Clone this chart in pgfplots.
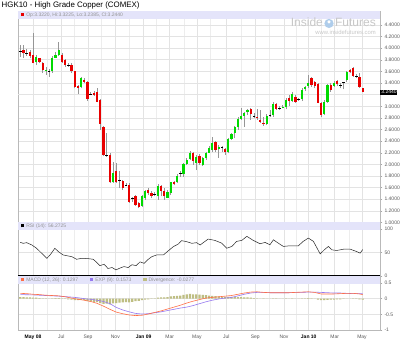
\documentclass[border=0pt]{standalone}
\usepackage{pgfplots}
\pgfplotsset{compat=1.18}
\usepackage{pgfplotstable}
\usepackage{fontspec}
\setmainfont{Liberation Sans}
\definecolor{candlered}{RGB}{232,0,0}
\definecolor{candlegreen}{RGB}{0,218,0}
\definecolor{wickc}{RGB}{150,150,150}
\definecolor{bandc}{RGB}{228,228,250}
\definecolor{macdc}{RGB}{255,110,70}
\definecolor{expc}{RGB}{150,120,240}
\definecolor{divc}{RGB}{190,190,130}
\definecolor{labc}{RGB}{90,90,90}
\definecolor{wmark}{RGB}{200,200,200}
\definecolor{wlogo}{RGB}{175,205,235}

\pgfplotstableread{
i o h l c
6 3.76 3.88 3.71 3.85
9 3.61 3.68 3.54 3.63
11 3.60 3.87 3.58 3.84
12 3.84 3.94 3.83 3.89
13 3.88 4.10 3.87 3.97
20 3.34 3.51 3.31 3.48
30 1.69 2.05 1.68 1.85
39 1.29 1.47 1.275 1.45
40 1.42 1.56 1.39 1.55
44 1.45 1.66 1.39 1.635
47 1.43 1.56 1.42 1.53
48 1.50 1.70 1.47 1.69
50 1.69 1.84 1.68 1.80
52 1.84 2.02 1.79 2.00
53 2.00 2.11 1.99 2.08
54 2.09 2.23 2.08 2.19
56 2.03 2.16 1.90 2.12
58 1.99 2.134 1.98 2.105
59 2.105 2.22 2.08 2.20
60 2.20 2.32 2.19 2.29
61 2.25 2.467 2.22 2.375
63 2.26 2.335 2.117 2.30
66 2.21 2.449 2.19 2.432
67 2.438 2.535 2.42 2.524
68 2.535 2.662 2.45 2.639
69 2.639 2.822 2.593 2.782
70 2.782 2.966 2.765 2.839
71 2.839 2.908 2.65 2.885
72 2.897 2.954 2.851 2.937
78 2.696 2.868 2.679 2.834
80 2.851 3.080 2.822 3.040
83 2.975 3.023 2.966 2.99
84 2.983 3.138 2.948 3.109
86 3.098 3.252 3.080 3.212
89 3.121 3.31 3.098 3.281
90 3.298 3.35 3.27 3.327
91 3.35 3.539 3.321 3.407
96 2.868 3.109 2.851 3.080
97 3.080 3.384 3.063 3.367
99 3.356 3.436 3.339 3.407
103 3.453 3.614 3.425 3.597
}\greendata

\pgfplotstableread{
i o h l c
2 3.97 4.05 3.83 3.91
4 3.93 3.97 3.83 3.87
5 3.89 4.27 3.74 3.75
7 3.83 3.84 3.74 3.76
8 3.74 3.77 3.57 3.62
14 3.89 3.91 3.75 3.77
15 3.79 3.81 3.68 3.71
17 3.71 3.74 3.57 3.60
18 3.60 3.61 3.31 3.34
19 3.35 3.37 3.22 3.32
21 3.46 3.48 3.41 3.42
22 3.42 3.44 3.10 3.13
24 3.23 3.27 3.18 3.19
25 3.25 3.31 3.07 3.08
26 3.11 3.12 2.59 2.70
27 2.65 2.66 2.14 2.16
29 2.16 2.19 1.68 1.69
31 1.88 2.02 1.68 1.69
33 1.72 1.74 1.56 1.59
35 1.65 1.675 1.34 1.36
37 1.46 1.47 1.285 1.30
38 1.34 1.36 1.245 1.27
41 1.56 1.59 1.47 1.50
42 1.51 1.55 1.42 1.46
45 1.62 1.65 1.45 1.55
46 1.55 1.59 1.39 1.45
49 1.69 1.72 1.64 1.66
55 2.19 2.22 1.99 2.06
57 2.15 2.18 1.99 2.03
62 2.38 2.40 2.22 2.25
65 2.26 2.277 2.163 2.21
73 2.948 2.966 2.765 2.862
75 2.817 2.948 2.765 2.794
76 2.765 2.937 2.719 2.736
77 2.708 2.822 2.662 2.690
81 3.040 3.063 2.937 2.954
85 3.149 3.195 3.006 3.098
87 3.166 3.195 3.063 3.080
92 3.482 3.511 3.339 3.367
93 3.413 3.436 3.310 3.350
94 3.384 3.407 3.052 3.063
95 3.052 3.080 2.811 2.851
98 3.367 3.396 3.252 3.281
100 3.436 3.453 3.356 3.379
104 3.625 3.637 3.568 3.597
105 3.654 3.683 3.511 3.522
107 3.511 3.568 3.321 3.339
108 3.322 3.3225 3.2385 3.244
}\reddata

\pgfplotstableread{
i h l c
1 4.06 3.85 3.95
3 3.98 3.87 3.92
10 3.65 3.51 3.61
16 3.75 3.68 3.71
23 3.25 3.20 3.21
28 2.54 2.13 2.16
32 1.88 1.59 1.72
34 1.675 1.62 1.635
36 1.445 1.36 1.41
43 1.53 1.45 1.49
51 1.88 1.79 1.84
64 2.317 2.22 2.294
74 2.880 2.794 2.834
79 2.937 2.822 2.851
82 3.006 2.937 2.966
88 3.14 3.10 3.121
101 3.396 3.310 3.367
102 3.425 3.293 3.407
106 3.551 3.482 3.522
}\dojidata

\pgfplotstableread{
i v
1 71.6
1.9 69.5
3.0 70.9
4.6 66
6.1 58.9
7.7 48.2
9.3 37.6
10.3 44.7
11.8 58.9
12.9 51.8
14.4 44.7
16 42.6
17.1 41.1
18.6 35.5
20.2 37.6
22.3 36.9
23.8 35.5
24.7 30
25.9 22
27.2 25
28.4 16
29.7 18
30.9 13
32.2 17
33.4 20
34.7 18
35.9 24
37.2 22
38.4 30
39.7 27
40.9 35
42.1 41.1
43.6 44.7
45.7 44.7
47.3 53.9
48.8 62.4
50.4 68.1
51.4 75.2
53 73
54.6 69.5
56.1 70.9
57.2 66
59.7 78.6
61.8 75.7
63.9 70
65.5 59
67.1 62.9
68.6 73.6
70.2 75.7
71.8 84.3
73.8 75.7
75.9 68.6
77.5 71.4
79 66.4
80.1 77
81.6 70
83.2 62.9
85.3 64.3
87.9 64.3
89.4 73.6
91 80.7
92.6 73.6
94.7 47
96.2 57
97.3 62.9
98.3 55.7
99.9 54.3
102 57
104.1 57
106.1 52
107.2 48.6
108 56.3
}\rsidata

\pgfplotstableread{
i v
1 0.17
3 0.16
5 0.14
7 0.13
9 0.11
11 0.10
13 0.09
15 0.06
17 0.02
19 -0.02
21 -0.05
23 -0.09
25 -0.15
27 -0.24
29 -0.34
31 -0.43
33 -0.48
35 -0.52
37 -0.54
39 -0.53
41 -0.49
43 -0.44
45 -0.39
47 -0.33
49 -0.27
51 -0.21
53 -0.14
55 -0.08
57 -0.03
59 0.02
61 0.04
63 0.06
65 0.08
67 0.10
69 0.14
71 0.18
73 0.21
75 0.22
77 0.20
79 0.19
81 0.19
83 0.19
85 0.19
87 0.20
89 0.21
91 0.22
93 0.20
95 0.15
97 0.15
99 0.15
101 0.16
103 0.17
105 0.17
107 0.15
108 0.13
}\macddata

\pgfplotstableread{
i v
1 0.13
5 0.12
9 0.10
13 0.08
17 0.05
19 0.03
21 0.00
23 -0.02
25 -0.05
27 -0.09
29 -0.16
31 -0.28
33 -0.36
35 -0.42
37 -0.47
39 -0.49
41 -0.48
43 -0.45
45 -0.42
47 -0.38
49 -0.34
51 -0.30
53 -0.27
55 -0.22
57 -0.16
59 -0.10
61 -0.05
63 -0.01
65 0.02
67 0.04
69 0.09
71 0.14
73 0.18
75 0.20
77 0.20
79 0.19
81 0.19
83 0.19
85 0.19
87 0.20
89 0.20
91 0.21
93 0.21
95 0.20
97 0.19
99 0.18
101 0.18
103 0.17
105 0.16
107 0.16
108 0.157
}\expdata

\pgfplotstableread{
i v
1 0.05
2 0.05
3 0.04
4 0.04
5 0.03
6 0.03
7 0.02
8 0.01
9 0.01
10 0.00
11 0.01
12 0.02
13 0.02
14 0.01
15 -0.01
16 -0.02
17 -0.03
18 -0.05
19 -0.05
20 -0.04
21 -0.05
22 -0.08
23 -0.09
24 -0.10
25 -0.11
26 -0.14
27 -0.17
28 -0.16
29 -0.18
30 -0.15
31 -0.14
32 -0.13
33 -0.12
34 -0.11
35 -0.12
36 -0.10
37 -0.08
38 -0.07
39 -0.05
40 -0.03
41 -0.02
42 -0.01
43 0.01
44 0.03
45 0.04
46 0.04
47 0.05
48 0.07
49 0.08
50 0.09
51 0.10
52 0.12
53 0.14
54 0.15
55 0.14
56 0.14
57 0.13
58 0.12
59 0.11
60 0.10
61 0.09
62 0.08
63 0.07
64 0.06
65 0.06
66 0.06
67 0.06
68 0.05
69 0.05
70 0.05
71 0.04
72 0.04
73 0.03
74 0.02
75 0.01
76 0.00
77 -0.01
78 0.00
79 0.00
80 0.01
81 0.01
82 0.00
83 0.00
84 0.01
85 0.00
86 0.01
87 0.00
88 0.00
89 0.01
90 0.01
91 0.02
92 0.01
93 0.00
94 -0.03
95 -0.05
96 -0.05
97 -0.04
98 -0.03
99 -0.03
100 -0.02
101 -0.02
102 -0.01
103 0.00
104 0.00
105 0.01
106 -0.01
107 -0.02
108 -0.03
}\divdata

\pgfplotsset{
  panel/.style={
    scale only axis, anchor=south west, width=362pt,
    xmin=0.28, xmax=113.4, clip=false,
    axis line style={draw=gray!55, line width=0.6pt},
    xtick={4.97,13.81,22.16,30.69,39.56,47.69,56.2,65.38,74.44,83.41,91.13,99.25,107.78},
    minor xtick={9.44,18.0,26.31,35.19,43.5,52.16,60.5,70.06,78.94,87.16,95.06,103.72},
    xtick style={draw=none}, minor tick length=0pt,
    ytick pos=right, yticklabel pos=right,
    tick align=outside, major tick length=2.5pt,
    ytick style={draw=gray!70, line width=0.5pt},
    grid=both,
    major grid style={draw=gray!22, line width=0.7pt},
    minor grid style={draw=gray!14, line width=0.7pt},
    yticklabel style={font=\fontsize{5}{6}\selectfont, text=labc, xshift=-1.5pt,
      /pgf/number format/assume math mode=true},
    xticklabel style={font=\fontsize{5}{6}\selectfont, text=labc,
      /pgf/number format/assume math mode=true},
  },
  wicks/.style={draw=none, mark=none, forget plot,
    error bars/.cd, y dir=plus, y explicit, error mark=none,
    error bar style={draw=wickc, line width=0.6pt}},
  bodies/.style={draw=none, mark=none, forget plot,
    error bars/.cd, y dir=plus, y explicit, error mark=none,
    error bar style={draw=#1, line width=2.3pt}},
}

\begin{document}
\begin{tikzpicture}
\useasboundingbox (0pt,0pt) rectangle (400pt,351pt);
\fill[white] (0pt,0pt) rectangle (400pt,351pt);
\node[anchor=west, inner sep=0pt, font=\fontsize{7.9}{9}\selectfont] at (1.5pt,345.5pt) {HGK10 - High Grade Copper (COMEX)};

% ---------------- price panel
\begin{axis}[panel, at={(18pt,128.5pt)}, height=211.5pt,
  ymin=1.0, ymax=4.641,
  xticklabels={},
  ytick={1.0,1.2,1.4,1.6,1.8,2.0,2.2,2.4,2.6,2.8,3.0,3.4,3.6,3.8,4.0,4.2,4.4},
  extra y ticks={3.2}, extra y tick labels={},
  extra y tick style={grid=major},
  yticklabel style={/pgf/number format/fixed, /pgf/number format/fixed zerofill,
    /pgf/number format/precision=4},
]
\fill[bandc] (rel axis cs:0,0.9645) rectangle (rel axis cs:1,1);
\node[anchor=west, inner sep=0pt, text=gray!85, font=\fontsize{5}{6}\selectfont]
  at (rel axis cs:0.008,0.982) {\textcolor{candlered}{\rule{3.2pt}{3.2pt}}\hspace{2pt}Op:3.3220, Hi:3.3225, Lo:3.2385, Cl:3.2440};
\addplot[wicks] table[x=i, y=l, y error expr=\thisrow{h}-\thisrow{l}] {\greendata};
\addplot[wicks] table[x=i, y=l, y error expr=\thisrow{h}-\thisrow{l}] {\reddata};
\addplot[wicks] table[x=i, y=l, y error expr=\thisrow{h}-\thisrow{l}] {\dojidata};
\addplot[bodies=candlegreen] table[x=i, y=o, y error expr=\thisrow{c}-\thisrow{o}] {\greendata};
\addplot[bodies=candlered] table[x=i, y=c, y error expr=\thisrow{o}-\thisrow{c}] {\reddata};
\addplot[only marks, mark=-, mark size=1.3pt, mark options={draw=black, line width=0.6pt}, forget plot]
  table[x=i, y=c] {\dojidata};
\draw[gray!75!black, line width=1.1pt] (rel axis cs:0,0) -- (rel axis cs:1,0);
\node[anchor=west, fill=black, text=white, inner sep=0.7pt, font=\fontsize{5}{6}\selectfont]
  at (axis cs:113.4,3.244) {\hspace{0.5pt}3.2440};
\end{axis}

% watermark
\node[anchor=east, inner sep=0pt, text=wmark, font=\fontsize{12}{12}\selectfont] at (376pt,328pt)
  {Inside\hspace{1.5pt}\tikz[baseline=-3.2pt]{\fill[wlogo] (0,0) circle (4.6pt); \fill[white] (0,1.6pt) circle (1.7pt);}\hspace{1.5pt}Futures};
\node[anchor=east, inner sep=0pt, text=wmark, font=\fontsize{5.9}{6}\selectfont] at (376pt,318.5pt) {www.insidefutures.com};

% ---------------- RSI panel
\begin{axis}[panel, at={(18pt,75pt)}, height=53.5pt,
  ymin=0, ymax=113.8, ytick={0,50,100}, xticklabels={},
]
\fill[bandc] (rel axis cs:0,0.869) rectangle (rel axis cs:1,1);
\node[anchor=west, inner sep=0pt, text=gray!85, font=\fontsize{5}{6}\selectfont]
  at (rel axis cs:0.008,0.935) {\textcolor{black}{\rule{3.2pt}{3.2pt}}\hspace{2pt}RSI (14): 56.2725};
\addplot[black!85, line width=0.5pt, mark=none] table[x=i, y=v] {\rsidata};
\draw[black, line width=1.3pt] (rel axis cs:0,0) -- (rel axis cs:1,0);
\end{axis}

% ---------------- MACD panel
\begin{axis}[panel, at={(18pt,21pt)}, height=54pt,
  ymin=-1, ymax=0.7234, ytick={-1,-0.5,0,0.5},
  xticklabels={\textcolor{black}{\textbf{May 08}},Jul,Sep,Nov,\textcolor{black}{\textbf{Jan 09}},Mar,May,Jul,Sep,Nov,\textcolor{black}{\textbf{Jan 10}},Mar,May},
  xticklabel style={yshift=1pt},
]
\fill[bandc] (rel axis cs:0,0.852) rectangle (rel axis cs:1,1);
\node[anchor=west, inner sep=0pt, text=gray!85, font=\fontsize{5}{6}\selectfont]
  at (rel axis cs:0.008,0.926) {\textcolor{macdc}{\rule{3.2pt}{3.2pt}}\hspace{2pt}MACD (12, 26): 0.1297\hspace{12pt}\textcolor{expc}{\rule{3.2pt}{3.2pt}}\hspace{2pt}EXP (9): 0.1573\hspace{12pt}\textcolor{divc}{\rule{3.2pt}{3.2pt}}\hspace{2pt}Divergence: -0.0277};
\addplot[ybar, bar width=2.2pt, fill=divc, draw=none, forget plot] table[x=i, y=v] {\divdata};
\addplot[expc, line width=0.6pt, mark=none] table[x=i, y=v] {\expdata};
\addplot[macdc, line width=0.6pt, mark=none] table[x=i, y=v] {\macddata};
\end{axis}
\end{tikzpicture}
\end{document}
